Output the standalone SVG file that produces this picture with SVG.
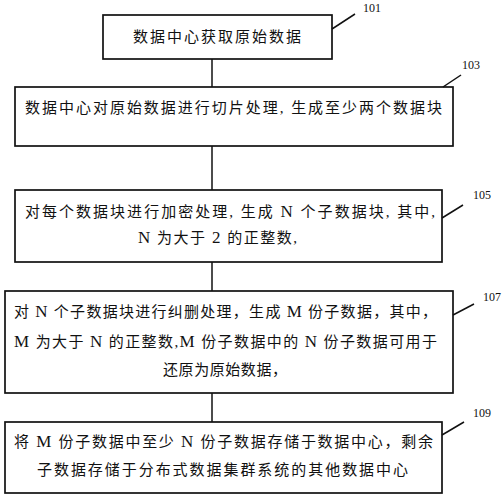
<svg xmlns="http://www.w3.org/2000/svg" width="503" height="500" viewBox="0 0 503 500">
<style>
.box{fill:#fff;stroke:#111;stroke-width:1.7}
.t{font-family:"Liberation Serif","Noto Sans CJK SC",serif;font-size:15px;fill:#111}
.l{font-size:17px}
.lbl{font-family:"Liberation Serif",serif;font-size:12px;fill:#111}
.ln{stroke:#111;stroke-width:1.5;fill:none}
</style>
<rect width="503" height="500" fill="#fff"/>
<g id="connectors">
<line class="ln" x1="212" y1="59" x2="212" y2="87"/>
<line class="ln" x1="212" y1="146" x2="212" y2="190"/>
<line class="ln" x1="212" y1="262" x2="212" y2="291"/>
<line class="ln" x1="212" y1="393" x2="212" y2="422"/>
</g>
<g id="n101">
<rect class="box" x="103" y="15" width="229" height="44"/>
<text class="t" x="133" y="42" textLength="168" lengthAdjust="spacing">数据中心获取原始数据</text>
<line class="ln" x1="332" y1="29" x2="355" y2="14"/>
<text class="lbl" x="363" y="12">101</text>
</g>
<g id="n103">
<rect class="box" x="15" y="87" width="438" height="59"/>
<text class="t" x="25" y="113" textLength="417" lengthAdjust="spacing">数据中心对原始数据进行切片处理, 生成至少两个数据块</text>
<line class="ln" x1="443" y1="87" x2="461" y2="75"/>
<text class="lbl" x="462" y="69">103</text>
</g>
<g id="n105">
<rect class="box" x="15" y="190" width="427" height="72"/>
<text class="t" x="25" y="217" textLength="410" lengthAdjust="spacing">对每个数据块进行加密处理, 生成 <tspan class="l">N</tspan> 个子数据块, 其中,</text>
<text class="t" x="138" y="243" textLength="159" lengthAdjust="spacing"><tspan class="l">N</tspan> 为大于 <tspan class="l">2</tspan> 的正整数,</text>
<line class="ln" x1="442" y1="218" x2="463" y2="205"/>
<text class="lbl" x="473" y="199">105</text>
</g>
<g id="n107">
<rect class="box" x="5" y="291" width="448" height="102"/>
<text class="t" x="14" y="317" textLength="423" lengthAdjust="spacing">对 <tspan class="l">N</tspan> 个子数据块进行纠删处理，生成 <tspan class="l">M</tspan> 份子数据，其中，</text>
<text class="t" x="14" y="347" textLength="423" lengthAdjust="spacing"><tspan class="l">M</tspan> 为大于 <tspan class="l">N</tspan> 的正整数,<tspan class="l">M</tspan> 份子数据中的 <tspan class="l">N</tspan> 份子数据可用于</text>
<text class="t" x="163" y="375" textLength="124" lengthAdjust="spacing">还原为原始数据，</text>
<line class="ln" x1="453" y1="315" x2="474" y2="304"/>
<text class="lbl" x="483" y="301">107</text>
</g>
<g id="n109">
<rect class="box" x="5" y="422" width="437" height="71"/>
<text class="t" x="14" y="447" textLength="419" lengthAdjust="spacing">将 <tspan class="l">M</tspan> 份子数据中至少 <tspan class="l">N</tspan> 份子数据存储于数据中心，剩余</text>
<text class="t" x="37" y="475" textLength="371" lengthAdjust="spacing">子数据存储于分布式数据集群系统的其他数据中心</text>
<line class="ln" x1="442" y1="435" x2="464" y2="422"/>
<text class="lbl" x="473" y="417">109</text>
</g>
</svg>
